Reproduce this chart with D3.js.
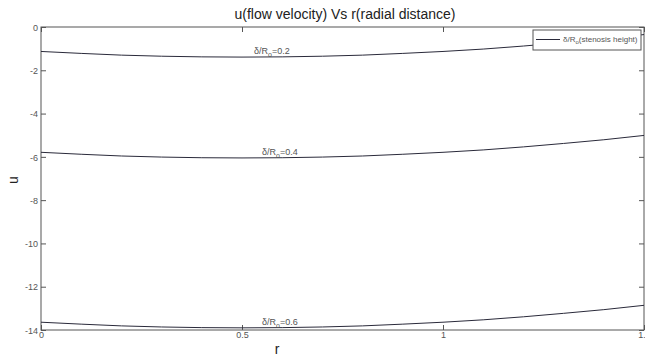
<!DOCTYPE html>
<html><head><meta charset="utf-8">
<script src="https://cdn.jsdelivr.net/npm/d3@7"></script>
<style>body{margin:0;background:#fff}svg{display:block}text{font-family:"Liberation Sans",Arial,sans-serif}</style>
</head><body>
<svg id="c" width="645" height="358"></svg>
<script>
const rValues = [0,0.1,0.2,0.3,0.4,0.5,0.6,0.7,0.8,0.9,1.0,1.1,1.2,1.3,1.4,1.5];
const u02 = [-1.13,-1.22,-1.30,-1.35,-1.38,-1.39,-1.38,-1.35,-1.30,-1.22,-1.13,-1.02,-0.88,-0.72,-0.55,-0.35];
const u04 = [-5.79,-5.88,-5.96,-6.01,-6.04,-6.05,-6.04,-6.01,-5.96,-5.88,-5.79,-5.68,-5.54,-5.38,-5.21,-5.01];
const u06 = [-13.64,-13.73,-13.81,-13.86,-13.89,-13.90,-13.89,-13.86,-13.81,-13.73,-13.64,-13.53,-13.39,-13.23,-13.06,-12.86];
const seriesNames = ["0.2","0.4","0.6"];
const xTicks = [0,0.5,1,1.5];
const yTicks = [0,-2,-4,-6,-8,-10,-12,-14];
const labelR = [0.53,0.55,0.55];

const svg = d3.select("#c");
const L=41, R=644, T=27, B=330;
const x = d3.scaleLinear().domain([0,1.5]).range([L,R]);
const y = d3.scaleLinear().domain([-14,0]).range([B,T]);
const axisCol="#555", txtCol="#555";

// box
svg.append("rect").attr("x",L).attr("y",T).attr("width",R-L).attr("height",B-T)
  .attr("fill","none").attr("stroke",axisCol).attr("stroke-width",1);

const fmt = d => String(d);
const gB = svg.append("g").attr("transform",`translate(0,${B})`)
  .call(d3.axisBottom(x).tickValues(xTicks).tickSizeInner(-5).tickSizeOuter(0).tickPadding(3).tickFormat(fmt));
const gT = svg.append("g").attr("transform",`translate(0,${T})`)
  .call(d3.axisTop(x).tickValues(xTicks).tickSizeInner(-5).tickSizeOuter(0).tickFormat(""));
const gL = svg.append("g").attr("transform",`translate(${L},0)`)
  .call(d3.axisLeft(y).tickValues(yTicks).tickSizeInner(-5).tickSizeOuter(0).tickPadding(3).tickFormat(fmt));
const gR = svg.append("g").attr("transform",`translate(${R},0)`)
  .call(d3.axisRight(y).tickValues(yTicks).tickSizeInner(-5).tickSizeOuter(0).tickFormat(""));
[gB,gT,gL,gR].forEach(g=>{
  g.select(".domain").remove();
  g.selectAll("line").attr("stroke",axisCol);
  g.selectAll("text").attr("fill",txtCol).attr("font-size",9);
});
gL.selectAll("text").attr("dy","0.35em");
gB.selectAll("text").attr("dy","0.5em");

// lines
const line = d3.line().x((d,i)=>x(rValues[i])).y(d=>y(d));
const data=[u02,u04,u06];
data.forEach((s,k)=>{
  svg.append("path").attr("d",line(s)).attr("fill","none").attr("stroke","#2a2a3a").attr("stroke-width",1);
});

// annotations
data.forEach((s,k)=>{
  const r=labelR[k];
  const uv = s[Math.round(r*10)];
  const t = svg.append("text").attr("x",x(r)).attr("y",y(uv)-3).attr("font-size",9).attr("fill","#555");
  t.append("tspan").text("δ/R");
  t.append("tspan").attr("font-size",7).attr("dy",3).text("o");
  t.append("tspan").attr("dy",-3).text("="+seriesNames[k]);
});

// legend
svg.append("rect").attr("x",533).attr("y",30).attr("width",108).attr("height",20)
  .attr("fill","#fff").attr("stroke",axisCol).attr("stroke-width",1);
svg.append("line").attr("x1",536).attr("x2",560).attr("y1",39.5).attr("y2",39.5).attr("stroke","#2a2a3a");
const lt = svg.append("text").attr("x",563).attr("y",42).attr("font-size",8).attr("fill","#555");
lt.append("tspan").text("δ/R");
lt.append("tspan").attr("font-size",6).attr("dy",2).text("o");
lt.append("tspan").attr("dy",-2).text("(stenosis height)");

// title and axis labels
svg.append("text").attr("x",345).attr("y",19).attr("text-anchor","middle").attr("font-size",14).attr("fill","#222")
  .text("u(flow velocity) Vs r(radial distance)");
svg.append("text").attr("x",277).attr("y",354).attr("text-anchor","middle").attr("font-size",14).attr("fill","#222").text("r");
svg.append("text").attr("transform","translate(18,180) rotate(-90)").attr("text-anchor","middle").attr("font-size",14).attr("fill","#222").text("u");
</script>
</body></html>
